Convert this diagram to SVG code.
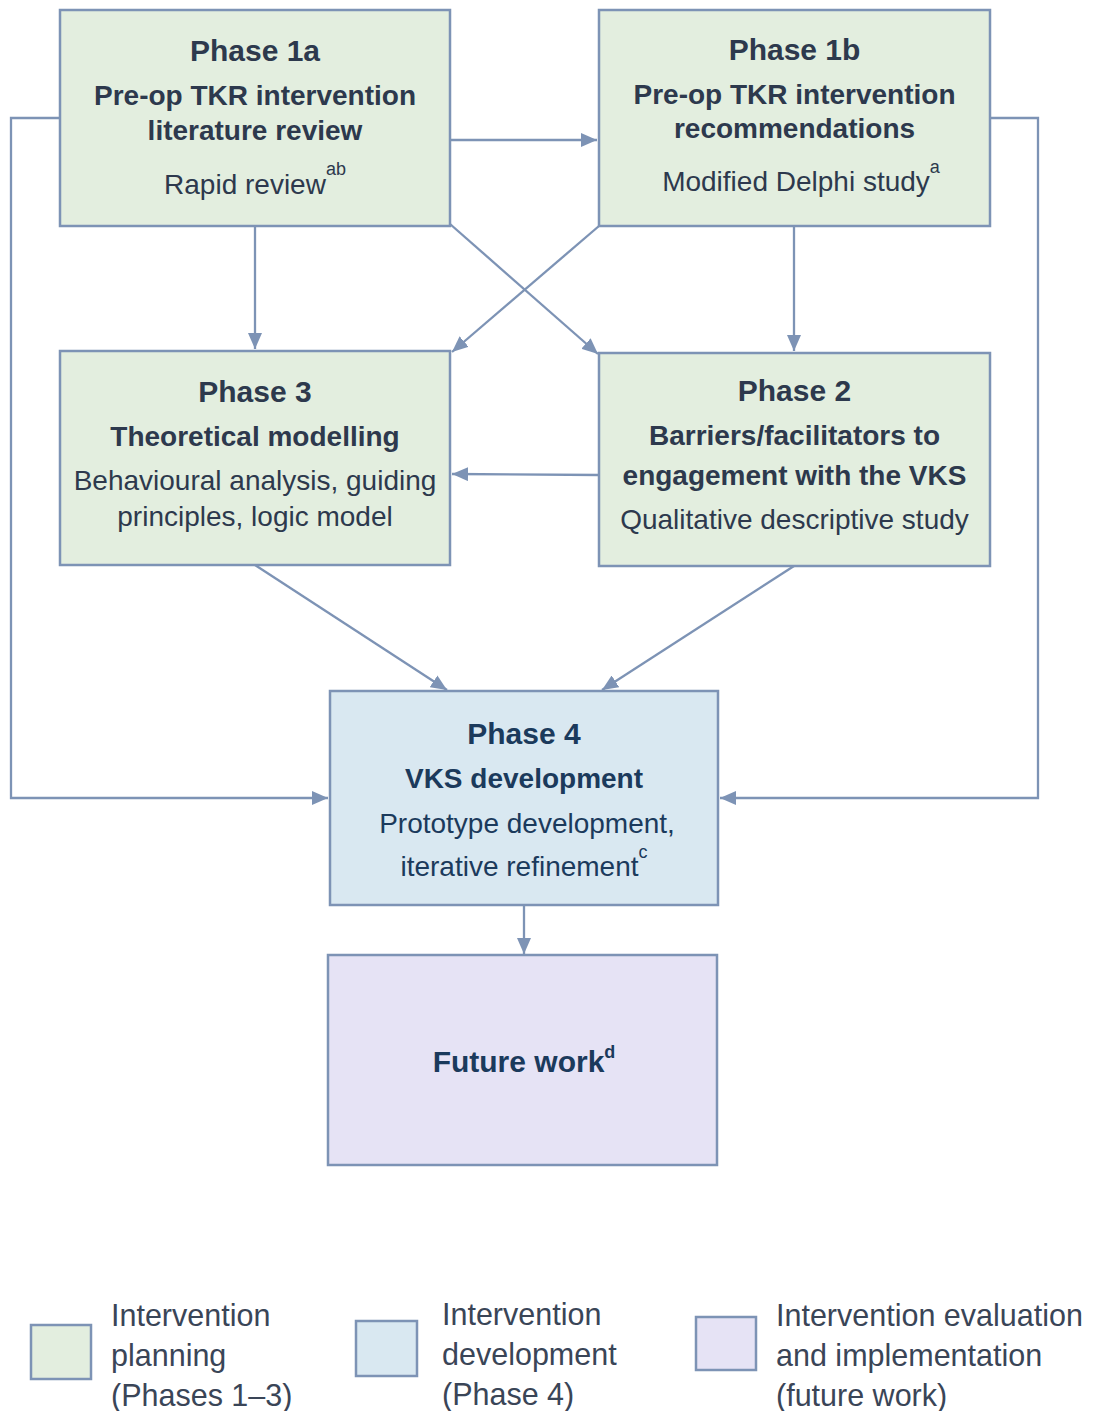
<svg xmlns="http://www.w3.org/2000/svg" width="1095" height="1411" viewBox="0 0 1095 1411">
<style>
.box{stroke:#7d93b5;stroke-width:2.5}
.g{fill:#e3eedf}
.b{fill:#d9e8f1}
.p{fill:#e6e3f5}
.t{font-family:"Liberation Sans",Arial,sans-serif;text-anchor:middle;fill:#2d394d}
.t4{font-family:"Liberation Sans",Arial,sans-serif;text-anchor:middle;fill:#1b3a5c}
.h{font-size:30px;font-weight:bold}
.s{font-size:28px;font-weight:bold}
.r{font-size:28px}
.sup{font-size:18px}
.c{fill:none;stroke:#7d93b5;stroke-width:2.3}
.leg{font-family:"Liberation Sans",Arial,sans-serif;font-size:30.5px;fill:#3a4557}
</style>
<defs>
<marker id="ah" viewBox="0 0 16 14" refX="16" refY="7" markerWidth="16" markerHeight="14" markerUnits="userSpaceOnUse" orient="auto">
<path d="M0,0 L16,7 L0,14 z" fill="#7d93b5"/>
</marker>
</defs>
<rect width="1095" height="1411" fill="#ffffff"/>
<g id="connectors">
<polyline class="c" points="60,118 11,118 11,798 328,798" marker-end="url(#ah)"/>
<polyline class="c" points="990,118 1038,118 1038,798 720,798" marker-end="url(#ah)"/>
<line class="c" x1="450" y1="140" x2="597" y2="140" marker-end="url(#ah)"/>
<line class="c" x1="255" y1="226" x2="255" y2="349" marker-end="url(#ah)"/>
<line class="c" x1="794" y1="226" x2="794" y2="351" marker-end="url(#ah)"/>
<line class="c" x1="450" y1="224" x2="598" y2="354" marker-end="url(#ah)"/>
<line class="c" x1="599" y1="226" x2="452" y2="352" marker-end="url(#ah)"/>
<line class="c" x1="599" y1="475" x2="452" y2="474" marker-end="url(#ah)"/>
<line class="c" x1="255" y1="565" x2="447" y2="690" marker-end="url(#ah)"/>
<line class="c" x1="794" y1="566" x2="602" y2="690" marker-end="url(#ah)"/>
<line class="c" x1="524" y1="905" x2="524" y2="954" marker-end="url(#ah)"/>
</g>
<g id="phase1a">
<rect class="box g" x="60" y="10" width="390" height="216"/>
<text class="t h" x="255" y="61">Phase 1a</text>
<text class="t s" x="255" y="105">Pre-op TKR intervention</text>
<text class="t s" x="255" y="140">literature review</text>
<text class="t r" x="255" y="194">Rapid review<tspan class="sup" dy="-19">ab</tspan></text>
</g>
<g id="phase1b">
<rect class="box g" x="599" y="10" width="391" height="216"/>
<text class="t h" x="794.5" y="60">Phase 1b</text>
<text class="t s" x="794.5" y="104">Pre-op TKR intervention</text>
<text class="t s" x="794.5" y="138">recommendations</text>
<text class="t r" x="801" y="191">Modified Delphi study<tspan class="sup" dy="-18">a</tspan></text>
</g>
<g id="phase3">
<rect class="box g" x="60" y="351" width="390" height="214"/>
<text class="t h" x="255" y="402">Phase 3</text>
<text class="t s" x="255" y="446">Theoretical modelling</text>
<text class="t r" x="255" y="490">Behavioural analysis, guiding</text>
<text class="t r" x="255" y="526">principles, logic model</text>
</g>
<g id="phase2">
<rect class="box g" x="599" y="353" width="391" height="213"/>
<text class="t h" x="794.5" y="401">Phase 2</text>
<text class="t s" x="794.5" y="445">Barriers/facilitators to</text>
<text class="t s" x="794.5" y="485">engagement with the VKS</text>
<text class="t r" x="794.5" y="529">Qualitative descriptive study</text>
</g>
<g id="phase4">
<rect class="box b" x="330" y="691" width="388" height="214"/>
<text class="t4 h" x="524" y="744">Phase 4</text>
<text class="t4 s" x="524" y="788">VKS development</text>
<text class="t4 r" x="527" y="833">Prototype development,</text>
<text class="t4 r" x="524" y="876">iterative refinement<tspan class="sup" dy="-18">c</tspan></text>
</g>
<g id="future">
<rect class="box p" x="328" y="955" width="389" height="210"/>
<text class="t4 h" x="524" y="1072">Future work<tspan class="sup" font-weight="bold" dy="-14">d</tspan></text>
</g>
<g id="legend">
<rect class="box g" x="31" y="1325" width="60" height="54"/>
<text class="leg" x="111" y="1326">Intervention</text>
<text class="leg" x="111" y="1366">planning</text>
<text class="leg" x="111" y="1406">(Phases 1–3)</text>
<rect class="box b" x="356" y="1321" width="61" height="55"/>
<text class="leg" x="442" y="1325">Intervention</text>
<text class="leg" x="442" y="1365">development</text>
<text class="leg" x="442" y="1405">(Phase 4)</text>
<rect class="box p" x="696" y="1317" width="60" height="53"/>
<text class="leg" x="776" y="1326">Intervention evaluation</text>
<text class="leg" x="776" y="1366">and implementation</text>
<text class="leg" x="776" y="1406">(future work)</text>
</g>
</svg>
